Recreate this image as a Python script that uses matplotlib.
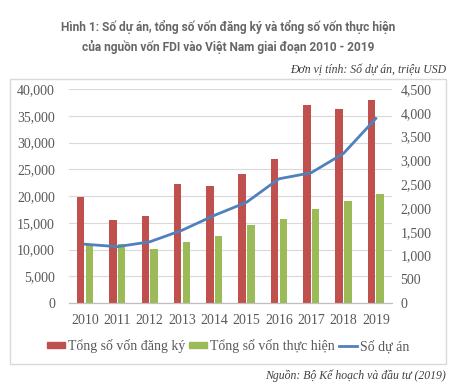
import matplotlib.pyplot as plt
from matplotlib.patches import Rectangle, Patch
from matplotlib.lines import Line2D
import numpy as np

# Dữ liệu
years = ['2010', '2011', '2012', '2013', '2014', '2015', '2016', '2017', '2018', '2019']
von_dang_ky = [19890, 15600, 16350, 22350, 21900, 24100, 26900, 37100, 36370, 38020]
von_thuc_hien = [11000, 11000, 10050, 11500, 12500, 14500, 15800, 17500, 19100, 20380]
so_du_an = [1237, 1186, 1287, 1530, 1843, 2120, 2613, 2741, 3147, 3883]

red = '#C0504D'
green = '#9BBB59'
blue = '#4F81BD'
txt = '#595959'

serif = ['Liberation Serif', 'DejaVu Serif']
narrow = ['Liberation Sans Narrow', 'Roboto', 'DejaVu Sans']

fig = plt.figure(figsize=(4.65, 3.91), dpi=100)

# khung viền
fig.patches.append(Rectangle((0.0215, 0.069), 0.9376, 0.729, transform=fig.transFigure,
                             fill=False, edgecolor='#D9D9D9', linewidth=1))

ax = fig.add_axes([0.148, 0.225, 0.695, 0.547])
ax2 = ax.twinx()

x = np.arange(len(years))
w = 0.23
ax.bar(x - 0.135, von_dang_ky, w, color=red, zorder=2)
ax.bar(x + 0.135, von_thuc_hien, w, color=green, zorder=2)
ax2.plot(x, so_du_an, color=blue, linewidth=2, zorder=3)

ax.set_xlim(-0.5, len(years) - 0.5)
ax.set_ylim(0, 40000)
ax2.set_ylim(0, 4500)
ax.set_yticks(np.arange(0, 40001, 5000))
ax2.set_yticks(np.arange(0, 4501, 500))
ax.set_yticklabels([f'{v:,}' for v in range(0, 40001, 5000)])
ax2.set_yticklabels([f'{v:,}' for v in range(0, 4501, 500)])
ax.set_xticks(x)
ax.set_xticklabels(years)

ax.grid(axis='y', color='#D9D9D9', linewidth=0.8, zorder=0)
for a in (ax, ax2):
    for s in ['top', 'left', 'right']:
        a.spines[s].set_visible(False)
    a.spines['bottom'].set_color('#BFBFBF')
    a.tick_params(length=0, labelsize=10, colors=txt)
    for lab in a.get_yticklabels() + a.get_xticklabels():
        lab.set_family(serif)
ax.tick_params(axis='x', pad=8)
ax.tick_params(axis='y', pad=10)
ax2.tick_params(axis='y', pad=6)

# tiêu đề
fig.text(0.49, 0.931, 'Hình 1: Số dự án, tổng số vốn đăng ký và tổng số vốn thực hiện',
         ha='center', va='center', fontsize=8.6, fontweight='bold', color='#666666', family=narrow)
fig.text(0.49, 0.880, 'của nguồn vốn FDI vào Việt Nam giai đoạn 2010 - 2019',
         ha='center', va='center', fontsize=8.6, fontweight='bold', color='#666666', family=narrow)
fig.text(0.959, 0.821, 'Đơn vị tính: Số dự án, triệu USD', ha='right', va='center',
         fontsize=8.5, style='italic', color='#404040', family=serif)
fig.text(0.959, 0.038, 'Nguồn: Bộ Kế hoạch và đầu tư (2019)', ha='right', va='center',
         fontsize=8.5, style='italic', color='#404040', family=serif)

handles = [Patch(color=red), Patch(color=green), Line2D([], [], color=blue, linewidth=2)]
labels = ['Tổng số vốn đăng ký', 'Tổng số vốn thực hiện', 'Số dự án']
fig.legend(handles, labels, loc='center', bbox_to_anchor=(0.49, 0.115), ncol=3, frameon=False,
           prop={'family': serif, 'size': 10}, labelcolor=txt, handlelength=1.3,
           handleheight=0.35, handletextpad=0.2, columnspacing=0.3)

fig.savefig('out.png', dpi=100)
